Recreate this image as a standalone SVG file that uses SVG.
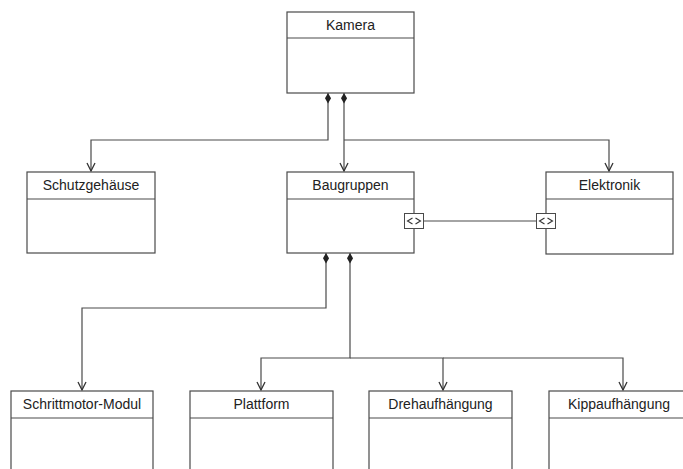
<svg xmlns="http://www.w3.org/2000/svg" width="683" height="469" viewBox="0 0 683 469">
  <style>
    .box { fill: #ffffff; stroke: #4a4a4a; stroke-width: 1.2; }
    .div { stroke: #4a4a4a; stroke-width: 1.2; }
    .label { font-family: "Liberation Sans", Arial, sans-serif; font-size: 14px; fill: #222222; text-anchor: middle; }
    .conn { fill: none; stroke: #4a4a4a; stroke-width: 1.2; }
    .port { fill: #ffffff; stroke: #4a4a4a; stroke-width: 1; }
    .portmark { fill: none; stroke: #333333; stroke-width: 1.1; }
  </style>
  <defs>
    <marker id="open" viewBox="0 0 10 10" refX="9" refY="5" markerWidth="10" markerHeight="10" markerUnits="userSpaceOnUse" orient="auto">
      <path d="M1,1 L9,5 L1,9" fill="none" stroke="#333333" stroke-width="1.3"/>
    </marker>
    <marker id="diamond" viewBox="0 0 12 8" refX="0" refY="4" markerWidth="12" markerHeight="7" markerUnits="userSpaceOnUse" orient="auto">
      <path d="M0,4 L6,0.5 L12,4 L6,7.5 Z" fill="#222222"/>
    </marker>
    <g id="portsym">
      <rect class="port" x="-9.5" y="-7.5" width="19" height="15"/>
      <path class="portmark" d="M-1.5,-3 L-6.5,0 L-1.5,3 M1.5,-3 L6.5,0 L1.5,3"/>
    </g>
  </defs>

  <!-- connectors -->
  <g id="connectors">
    <path class="conn" d="M328,93 V140 H91 V171" marker-start="url(#diamond)" marker-end="url(#open)"/>
    <path class="conn" d="M344,93 V171" marker-start="url(#diamond)" marker-end="url(#open)"/>
    <path class="conn" d="M344,140 H609 V171" marker-end="url(#open)"/>
    <path class="conn" d="M326,253 V308 H82 V390" marker-start="url(#diamond)" marker-end="url(#open)"/>
    <path class="conn" d="M350,253 V358 H261 V390" marker-start="url(#diamond)" marker-end="url(#open)"/>
    <path class="conn" d="M350,358 H443 V390" marker-end="url(#open)"/>
    <path class="conn" d="M443,358 H623 V390" marker-end="url(#open)"/>
    <line class="conn" x1="423" y1="221" x2="537" y2="221"/>
  </g>

  <g id="kamera">
    <rect class="box" x="287" y="12" width="127" height="81"/>
    <line class="div" x1="287" y1="38" x2="414" y2="38"/>
    <text class="label" x="350.5" y="30">Kamera</text>
  </g>

  <g id="schutzgehaeuse">
    <rect class="box" x="27" y="172" width="128" height="81"/>
    <line class="div" x1="27" y1="199" x2="155" y2="199"/>
    <text class="label" x="91" y="190">Schutzgehäuse</text>
  </g>

  <g id="baugruppen">
    <rect class="box" x="287" y="172" width="127" height="81"/>
    <line class="div" x1="287" y1="199" x2="414" y2="199"/>
    <text class="label" x="350.5" y="190">Baugruppen</text>
    <use href="#portsym" x="414" y="221"/>
  </g>

  <g id="elektronik">
    <rect class="box" x="546" y="172" width="127" height="82"/>
    <line class="div" x1="546" y1="199" x2="673" y2="199"/>
    <text class="label" x="609.5" y="190">Elektronik</text>
    <use href="#portsym" x="546" y="221"/>
  </g>

  <g id="schrittmotor-modul">
    <rect class="box" x="11" y="391" width="142" height="90"/>
    <line class="div" x1="11" y1="418" x2="153" y2="418"/>
    <text class="label" x="82" y="409">Schrittmotor-Modul</text>
  </g>

  <g id="plattform">
    <rect class="box" x="190" y="391" width="143" height="90"/>
    <line class="div" x1="190" y1="418" x2="333" y2="418"/>
    <text class="label" x="261.5" y="409">Plattform</text>
  </g>

  <g id="drehaufhaengung">
    <rect class="box" x="369" y="391" width="143" height="90"/>
    <line class="div" x1="369" y1="418" x2="512" y2="418"/>
    <text class="label" x="440.5" y="409">Drehaufhängung</text>
  </g>

  <g id="kippaufhaengung">
    <rect class="box" x="549" y="391" width="143" height="90"/>
    <line class="div" x1="549" y1="418" x2="692" y2="418"/>
    <text class="label" x="619" y="409">Kippaufhängung</text>
  </g>
</svg>
